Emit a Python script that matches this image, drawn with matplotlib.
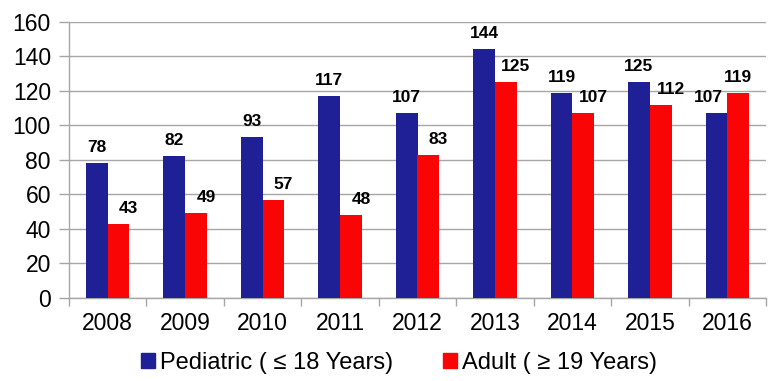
import numpy as np
import matplotlib.pyplot as plt
from matplotlib.patches import Patch

plt.rcParams['font.family'] = ['Liberation Sans', 'DejaVu Sans']

years = ['2008', '2009', '2010', '2011', '2012', '2013', '2014', '2015', '2016']
pediatric = [78, 82, 93, 117, 107, 144, 119, 125, 107]
adult = [43, 49, 57, 48, 83, 125, 107, 112, 119]

blue = '#1F1F96'
red = '#FA0505'
grid = '#A6A6A6'

fig = plt.figure(figsize=(7.73, 3.81), dpi=100)
ax = fig.add_axes([69 / 773, 1 - 298 / 381, (766 - 69) / 773, (298 - 21.7) / 381])

x = np.arange(len(years))
w = 0.28
ax.bar(x - w / 2, pediatric, w, color=blue, zorder=3)
ax.bar(x + w / 2, adult, w, color=red, zorder=3)

for i in range(len(years)):
    p, a = pediatric[i], adult[i]
    if a > p:
        dp, da = -8, 0
    else:
        dp, da = 0, 10
    ax.annotate(str(p), (x[i] - w / 2, p), xytext=(dp, 8), textcoords='offset pixels',
                ha='center', va='bottom', fontsize=12.5, fontweight='bold')
    ax.annotate(str(a), (x[i] + w / 2, a), xytext=(da, 8), textcoords='offset pixels',
                ha='center', va='bottom', fontsize=12.5, fontweight='bold')

ax.set_ylim(0, 160)
ax.set_yticks(range(0, 161, 20))
ax.set_xlim(-0.5, 8.5 - 11 / 78.75)
ax.set_xticks(x)
ax.set_xticklabels(years)
ax.set_xticks(np.arange(-0.5, 8.6, 1), minor=True)
ax.tick_params(axis='x', which='major', length=0, pad=10, labelsize=16.5)
ax.tick_params(axis='x', which='minor', length=6, color=grid, width=1)
ax.tick_params(axis='y', length=7, color=grid, width=1, labelsize=16.5, pad=6)

ax.grid(axis='y', color=grid, linewidth=1, zorder=0)
for s in ['top', 'right']:
    ax.spines[s].set_visible(False)
for s in ['left', 'bottom']:
    ax.spines[s].set_color(grid)
    ax.spines[s].set_linewidth(1)

handles = [Patch(color=blue, label='Pediatric ( \u2264 18 Years)'),
           Patch(color=red, label='Adult ( \u2265 19 Years)')]
fig.legend(handles=handles, loc='center', bbox_to_anchor=(399 / 773, 1 - 363 / 381),
           ncol=2, frameon=False, fontsize=17, handlelength=0.6, handleheight=0.6,
           handletextpad=0.2, columnspacing=2.1)

fig.savefig('out.png', dpi=100)
